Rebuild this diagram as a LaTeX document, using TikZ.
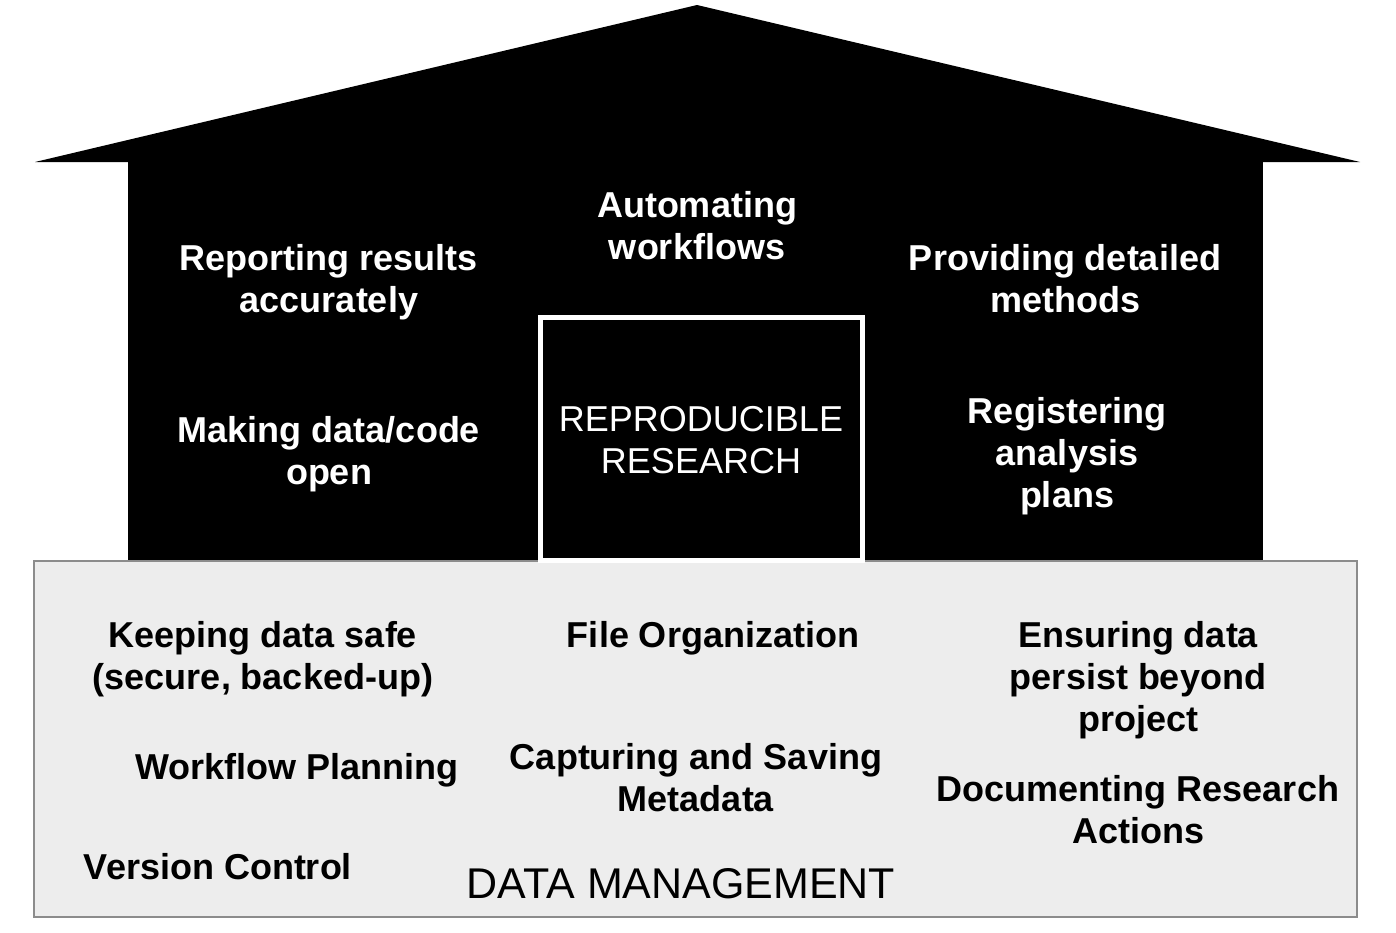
\documentclass[tikz,border=0pt]{standalone}
\usepackage{fontspec}
\setmainfont{Liberation Sans}
\usepackage{tikz}

\begin{document}
\begin{tikzpicture}[x=0.5pt,y=-0.5pt,
    pillar/.style={text=white,font=\fontsize{18}{21}\selectfont\bfseries,align=center},
    floor/.style={text=black,font=\fontsize{18}{21}\selectfont\bfseries,align=center},
    title/.style={align=center,font=\fontsize{18}{21}\selectfont}]
  \useasboundingbox (0,0) rectangle (1396,932);
  % house outline
  \fill[black] (35,162) -- (697,5) -- (1360,162) -- cycle;
  \fill[black] (128,162) rectangle (1263,562);
  \draw[black!45,fill=black!7,line width=1pt] (34,561) rectangle (1357,917);
  \draw[white,fill=black,line width=2.5pt] (540.5,317.5) rectangle (862.5,560.5);
  % walls
  \node[pillar] (report) at (329,282) {Reporting results\\accurately};
  \node[pillar] (auto) at (697,226) {Automating\\workflows};
  \node[pillar] (methods) at (1065,279) {Providing detailed\\methods};
  \node[pillar] (open) at (329,454) {Making data/code\\open};
  \node[pillar] (plans) at (1067,456) {Registering\\analysis\\plans};
  \node[title,text=white] (rr) at (701,440) {REPRODUCIBLE\\RESEARCH};
  % foundation
  \node[floor] (safe) at (263,659) {Keeping data safe\\(secure, backed-up)};
  \node[floor] (files) at (713,638) {File Organization};
  \node[floor] (persist) at (1138,680) {Ensuring data\\persist beyond\\project};
  \node[floor] (plan) at (297,770) {Workflow Planning};
  \node[floor] (meta) at (696,778) {Capturing and Saving\\Metadata};
  \node[floor] (docs) at (1138,810) {Documenting Research\\Actions};
  \node[floor] (vc) at (218,867) {Version Control};
  \node[font=\fontsize{21.5}{25}\selectfont] (dm) at (681,884) {DATA MANAGEMENT};
\end{tikzpicture}
\end{document}
